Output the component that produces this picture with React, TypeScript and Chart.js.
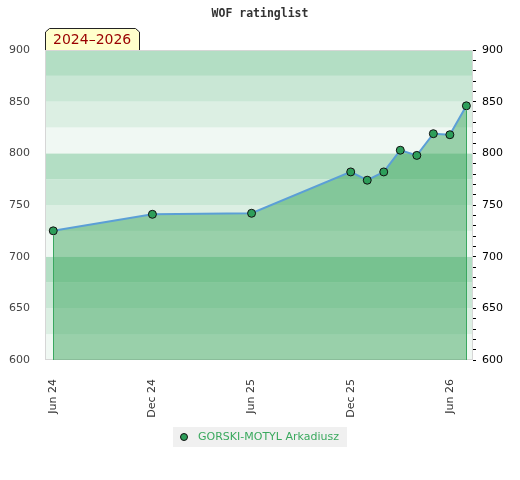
import React, { useEffect, useRef } from 'react';
import { Chart, registerables } from 'chart.js';

Chart.register(...registerables);

// ---- data ----
const MONTHS = ['2024-06', '2024-12', '2025-06', '2025-12', '2026-01', '2026-02', '2026-03', '2026-04', '2026-05', '2026-06', '2026-07'];
const RATINGS = [725, 741, 742, 782, 774, 782, 803, 798, 819, 818, 846];
const X_TICK_MONTHS = ['2024-06', '2024-12', '2025-06', '2025-12', '2026-06'];
const X_TICK_LABELS = ['Jun 24', 'Dec 24', 'Jun 25', 'Dec 25', 'Jun 26'];
const PLAYER = 'GORSKI-MOTYL Arkadiusz';
const TITLE = 'WOF ratinglist';
const PERIOD = '2024\u20132026';
const Y_MIN = 600;
const Y_MAX = 900;
const Y_LABEL_STEP = 50;
const Y_MINOR_STEP = 10;
const BAND_STEP = 25;

// ---- styles ----
const BAND_COLORS = ['#f0f8f3', '#dcefe3', '#c9e7d5', '#b3dec4'];
const FONT = 'DejaVu Sans';

const BASE_MONTH = MONTHS[0];
function monthIndex(m: string): number {
  const [y, mo] = m.split('-').map(Number);
  const [by, bm] = BASE_MONTH.split('-').map(Number);
  return (y - by) * 12 + (mo - bm);
}

const bandsPlugin = {
  id: 'bands',
  beforeDatasetsDraw(chart: any) {
    const { ctx, chartArea, scales } = chart;
    const y = scales.y;
    ctx.save();
    for (let v = Y_MIN; v < Y_MAX; v += BAND_STEP) {
      const idx = Math.round((v - Y_MIN) / BAND_STEP) % BAND_COLORS.length;
      const top = y.getPixelForValue(v + BAND_STEP);
      const bot = y.getPixelForValue(v);
      ctx.fillStyle = BAND_COLORS[idx];
      ctx.fillRect(chartArea.left, top, chartArea.right - chartArea.left, bot - top);
    }
    ctx.strokeStyle = '#d6d6d6';
    ctx.lineWidth = 1;
    ctx.strokeRect(chartArea.left + 0.5, chartArea.top + 0.5, chartArea.right - chartArea.left - 1, chartArea.bottom - chartArea.top - 1);
    ctx.restore();
  },
  afterDatasetsDraw(chart: any) {
    const { ctx, chartArea } = chart;
    const meta = chart.getDatasetMeta(0);
    const pts = meta.data;
    if (!pts.length) return;
    ctx.save();
    ctx.strokeStyle = '#3aa860';
    ctx.lineWidth = 1;
    [pts[0], pts[pts.length - 1]].forEach((p: any) => {
      const x = Math.round(p.x) + 0.5;
      ctx.beginPath();
      ctx.moveTo(x, p.y + 4.5);
      ctx.lineTo(x, chartArea.bottom);
      ctx.stroke();
    });
    ctx.restore();
  },
  afterDraw(chart: any) {
    const { ctx, chartArea } = chart;
    ctx.save();
    // period label box
    ctx.font = `14px "${FONT}"`;
    const tw = ctx.measureText(PERIOD).width;
    const l = chartArea.left + 0.5;
    const t = chartArea.top;
    const w = Math.round(tw + 16);
    const h = 22;
    const c = 4;
    ctx.beginPath();
    ctx.moveTo(l, t);
    ctx.lineTo(l, t - h + c);
    ctx.lineTo(l + c, t - h + 0.5);
    ctx.lineTo(l + w - c, t - h + 0.5);
    ctx.lineTo(l + w, t - h + c);
    ctx.lineTo(l + w, t);
    ctx.fillStyle = '#ffffcc';
    ctx.fill();
    ctx.strokeStyle = '#222';
    ctx.lineWidth = 1;
    ctx.stroke();
    ctx.fillStyle = '#990000';
    ctx.textBaseline = 'middle';
    ctx.textAlign = 'left';
    ctx.fillText(PERIOD, l + 7.5, t - h / 2 + 1.5);

    // legend
    const ds = chart.data.datasets[0];
    ctx.font = `11px "${FONT}"`;
    const lw = ctx.measureText(ds.label).width;
    const boxW = Math.round(11 + 14 + lw + 8);
    const boxH = 20;
    const bx = Math.round(chart.width / 2 - boxW / 2);
    const by = chart.height - 53;
    ctx.fillStyle = '#f0f0f0';
    ctx.fillRect(bx, by, boxW, boxH);
    ctx.beginPath();
    ctx.arc(bx + 11, by + boxH / 2, 3.5, 0, Math.PI * 2);
    ctx.fillStyle = ds.pointBackgroundColor;
    ctx.fill();
    ctx.strokeStyle = '#111';
    ctx.stroke();
    ctx.fillStyle = '#3aa95e';
    ctx.textBaseline = 'middle';
    ctx.fillText(ds.label, bx + 25, by + boxH / 2 + 0.5);
    ctx.restore();
  },
};

export default function App() {
  const ref = useRef<HTMLCanvasElement>(null);
  useEffect(() => {
    if (!ref.current) return;
    const xMin = monthIndex(MONTHS[0]) - 0.5;
    const xMax = monthIndex(MONTHS[MONTHS.length - 1]) + 0.4;
    const chart = new Chart(ref.current, {
      type: 'line',
      data: {
        datasets: [
          {
            label: PLAYER,
            data: MONTHS.map((m, i) => ({ x: monthIndex(m), y: RATINGS[i] })),
            borderColor: '#5b9fd6',
            borderWidth: 2,
            backgroundColor: 'rgba(46,159,81,0.45)',
            fill: 'start',
            tension: 0,
            pointRadius: 4,
            pointHoverRadius: 4,
            pointBackgroundColor: '#2e9e5a',
            pointBorderColor: '#111',
            pointBorderWidth: 1,
            xAxisID: 'x',
            yAxisID: 'y',
          },
        ],
      },
      options: {
        responsive: false,
        animation: false,
        layout: { padding: 0 },
        plugins: {
          legend: { display: false },
          tooltip: { enabled: false },
          title: {
            display: true,
            text: TITLE,
            color: '#333',
            font: { family: 'DejaVu Sans Mono', size: 11.5, weight: 'bold', lineHeight: 1 },
            padding: { top: 8, bottom: 30.5 },
          },
        },
        scales: {
          x: {
            type: 'linear',
            min: xMin,
            max: xMax,
            grid: { display: false },
            border: { display: false },
            afterBuildTicks: (scale: any) => {
              scale.ticks = X_TICK_MONTHS.map((m) => ({ value: monthIndex(m) }));
            },
            afterFit: (scale: any) => {
              scale.height = 120;
            },
            ticks: {
              autoSkip: false,
              maxRotation: 90,
              minRotation: 90,
              padding: 11,
              color: '#333',
              font: { family: FONT, size: 11 },
              callback: (v: any) => {
                const i = X_TICK_MONTHS.findIndex((m) => monthIndex(m) === v);
                return i >= 0 ? X_TICK_LABELS[i] : '';
              },
            },
          },
          y: {
            type: 'linear',
            position: 'left',
            min: Y_MIN,
            max: Y_MAX,
            grid: { display: false },
            border: { display: false },
            afterFit: (scale: any) => {
              scale.width = 45;
            },
            ticks: {
              stepSize: Y_LABEL_STEP,
              padding: 7,
              color: '#444',
              font: { family: FONT, size: 11 },
            },
          },
          y2: {
            type: 'linear',
            position: 'right',
            min: Y_MIN,
            max: Y_MAX,
            border: { display: false },
            grid: { display: true, drawOnChartArea: false, drawTicks: true, tickLength: 3, color: '#000' },
            afterFit: (scale: any) => {
              scale.width = 47;
            },
            ticks: {
              stepSize: Y_MINOR_STEP,
              autoSkip: false,
              padding: 6,
              color: '#000',
              font: { family: FONT, size: 11 },
              callback: (v: any) => (v % Y_LABEL_STEP === 0 ? String(v) : ''),
            },
          },
        },
      },
      plugins: [bandsPlugin],
    });
    return () => chart.destroy();
  }, []);
  return (
    <div style={{ position: 'absolute', left: 0, top: 0, width: 520, height: 480 }}>
      <canvas ref={ref} width={520} height={480} style={{ display: 'block' }} />
    </div>
  );
}
